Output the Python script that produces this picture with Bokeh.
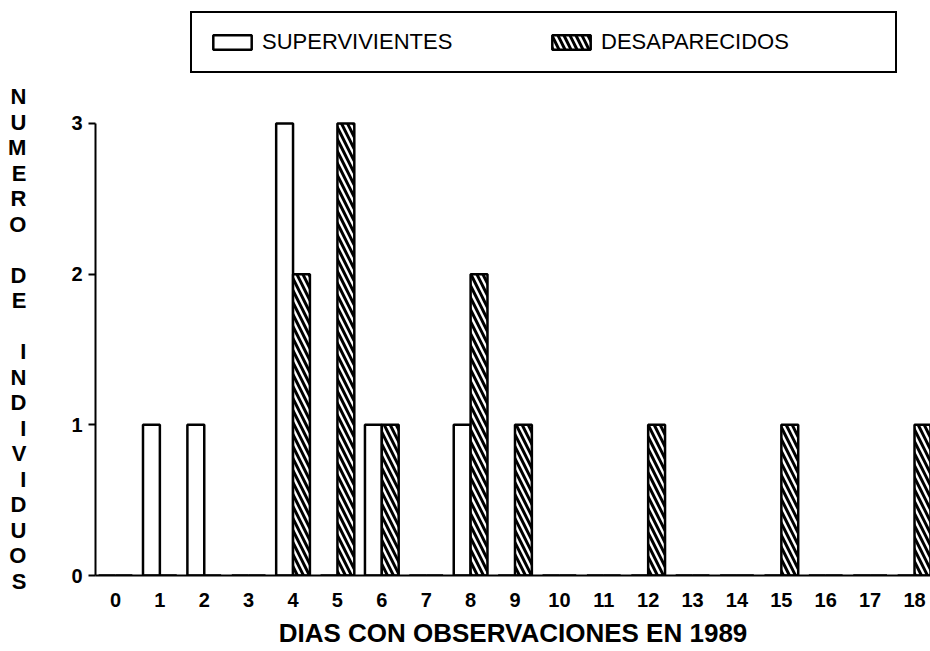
from bokeh.plotting import figure
from bokeh.models import (ColumnDataSource, Legend, LegendItem,
                          FixedTicker, Range1d)
from bokeh.transform import dodge
from bokeh.embed import file_html
from bokeh.resources import INLINE

# ---- data ----
days = list(range(19))
supervivientes = [0, 1, 1, 0, 3, 0, 1, 0, 1, 0, 0, 0, 0, 0, 0, 0, 0, 0, 0]
desaparecidos = [0, 0, 0, 0, 2, 3, 1, 0, 2, 1, 0, 0, 1, 0, 0, 1, 0, 0, 1]
y_ticks = [0, 1, 2, 3]
series_names = ["SUPERVIVIENTES", "DESAPARECIDOS"]
x_title = "DIAS CON OBSERVACIONES EN 1989"
y_title = "NUMERO DE INDIVIDUOS"

FONT = "Liberation Sans"

src = ColumnDataSource(dict(day=days, sup=supervivientes, des=desaparecidos))

p = figure(width=930, height=651,
           x_range=Range1d(-0.45, 18.36), y_range=Range1d(0, 3.816),
           output_backend="svg", toolbar_location=None,
           min_border_left=95, min_border_right=0,
           min_border_top=0, min_border_bottom=76)
p.outline_line_color = None
p.xgrid.visible = False
p.ygrid.visible = False
p.background_fill_color = "white"
p.border_fill_color = "white"

bw = 0.38
r1 = p.vbar(x=dodge("day", -bw / 2), top="sup", width=bw, bottom=0,
            fill_color="white", line_color="black", line_width=2.5,
            source=src)
r2 = p.vbar(x=dodge("day", bw / 2), top="des", width=bw, bottom=0,
            fill_color="white", line_color="black", line_width=2.5,
            hatch_pattern="\\", hatch_color="black", hatch_scale=12,
            hatch_weight=3, source=src)

legend = Legend(items=[LegendItem(label=series_names[0], renderers=[r1]),
                       LegendItem(label=series_names[1], renderers=[r2])],
                orientation="horizontal", location=(95, 502), margin=0,
                padding=16, spacing=7, glyph_width=48, glyph_height=18,
                label_width=278, label_height=21, label_standoff=6,
                label_text_font=FONT, label_text_font_size="22px",
                label_text_color="black",
                border_line_color="black", border_line_width=2,
                border_line_alpha=1,
                background_fill_color="white", background_fill_alpha=1)
p.add_layout(legend)

# stacked (upright) y title; leading blank rows push it down to the axis span
rows = [" "] * 4
for wi, word in enumerate(y_title.split(" ")):
    if wi > 0:
        rows.append(" ")
    rows.extend(list(word))

# y axis
ya = p.yaxis[0]
ya.ticker = FixedTicker(ticks=y_ticks)
ya.bounds = (0, 3)
ya.axis_line_width = 2
ya.axis_line_color = "black"
ya.major_tick_line_width = 2
ya.major_tick_out = 7
ya.major_tick_in = 0
ya.minor_tick_line_color = None
ya.major_label_text_font = FONT
ya.major_label_text_font_style = "bold"
ya.major_label_text_font_size = "20px"
ya.major_label_text_color = "black"
ya.major_label_standoff = 6
ya.axis_label = "\n".join(rows)
ya.axis_label_orientation = "horizontal"
ya.axis_label_text_font = FONT
ya.axis_label_text_font_style = "bold"
ya.axis_label_text_font_size = "22px"
ya.axis_label_text_line_height = 1.02
ya.axis_label_text_color = "black"
ya.axis_label_standoff = 42

# x axis
xa = p.xaxis[0]
xa.ticker = FixedTicker(ticks=days)
xa.axis_line_width = 2
xa.axis_line_color = "black"
xa.major_tick_line_color = None
xa.minor_tick_line_color = None
xa.major_tick_out = 0
xa.major_tick_in = 0
xa.major_label_text_font = FONT
xa.major_label_text_font_style = "bold"
xa.major_label_text_font_size = "20px"
xa.major_label_text_color = "black"
xa.major_label_standoff = 17
xa.axis_label = x_title
xa.axis_label_text_font = FONT
xa.axis_label_text_font_style = "bold"
xa.axis_label_text_font_size = "26px"
xa.axis_label_text_color = "black"
xa.axis_label_standoff = 8

open("out.html", "w").write(file_html(p, INLINE))
